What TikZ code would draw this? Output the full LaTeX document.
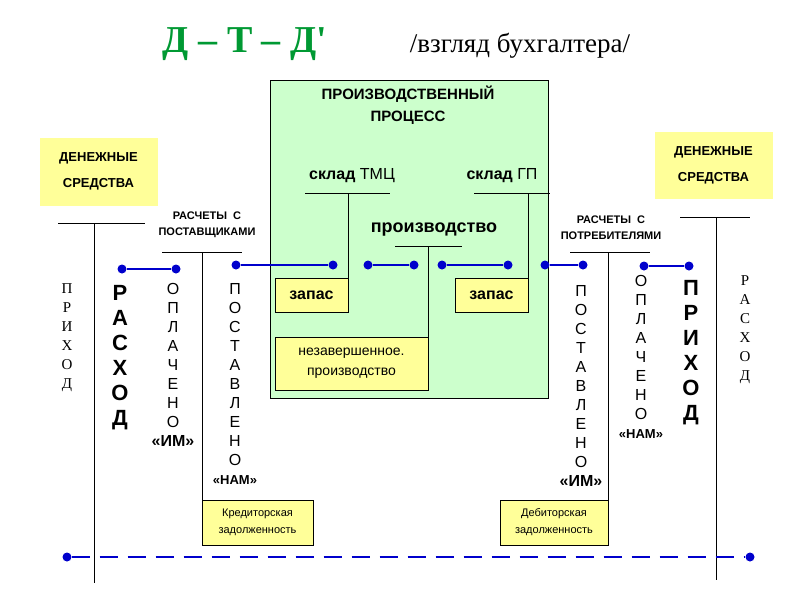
\documentclass[tikz,border=0pt]{standalone}
\usepackage{fontspec}
\setmainfont{Liberation Sans}
\newfontfamily\serif{Liberation Serif}
\definecolor{lgreen}{HTML}{CCFFCC}
\definecolor{lyellow}{HTML}{FFFF99}
\definecolor{tgreen}{HTML}{009933}
\definecolor{dblue}{HTML}{0000CC}
\tikzset{
 ybox/.style={draw, fill=lyellow, line width=0.6pt},
 tline/.style={line width=0.7pt},
 flow/.style={dblue, line width=2.2pt},
 dot/.style={circle, fill=dblue, inner sep=0pt, minimum size=9pt},
 vtxt/.style={align=center, inner sep=0pt, anchor=north, font={\fontsize{16}{19}\selectfont}},
 sm/.style={align=center, font={\bfseries\fontsize{11}{16}\selectfont}},
}
\begin{document}
\begin{tikzpicture}[x=1pt,y=-1pt]
\useasboundingbox (0,0) rectangle (800,600);
\fill[white] (0,0) rectangle (800,600);
\node[text=tgreen, font={\bfseries\serif\fontsize{38}{40}\selectfont}] (t1) at (245,44) {Д – Т – Д'};
\node[font={\serif\fontsize{27}{30}\selectfont}] (t2) at (520,46) {/взгляд бухгалтера/};
% green box
\draw[fill=lgreen, line width=0.6pt] (270,80) rectangle (548,398);
\node[align=center, font={\bfseries\fontsize{15}{22}\selectfont}] (pp) at (408,105) {ПРОИЗВОДСТВЕННЫЙ\\ПРОЦЕСС};
\node[font={\fontsize{16}{18}\selectfont}] (sk1) at (352,176) {\textbf{склад} ТМЦ};
\node[font={\fontsize{16}{18}\selectfont}] (sk2) at (502,176) {\textbf{склад} ГП};
\node[font={\bfseries\fontsize{18}{20}\selectfont}] (pr) at (434,230) {производство};
\node[ybox, minimum width=73pt, minimum height=34pt, font={\bfseries\fontsize{16}{18}\selectfont}] (z1) at (311.5,295) {запас};
\node[ybox, minimum width=73pt, minimum height=34pt, font={\bfseries\fontsize{16}{18}\selectfont}] (z2) at (491.5,295) {запас};
\node[ybox, minimum width=153pt, minimum height=53pt, align=center, font={\fontsize{14}{20}\selectfont}] (nz) at (351.5,363.5) {незавершенное.\\производство};
\draw[tline] (305,193) -- (390,193) (348,193) -- (348,305);
\draw[tline] (474,193) -- (550,193) (528,193) -- (528,312);
\draw[tline] (395,246) -- (462,246) (428,246) -- (428,337);
% money boxes
\node[draw=lyellow, fill=lyellow, minimum width=117pt, minimum height=67pt, align=center, font={\bfseries\fontsize{13}{26}\selectfont}] (d1) at (98.5,171.5) {ДЕНЕЖНЫЕ\\СРЕДСТВА};
\node[draw=lyellow, fill=lyellow, minimum width=117pt, minimum height=66pt, align=center, font={\bfseries\fontsize{13}{26}\selectfont}] (d2) at (713.5,165) {ДЕНЕЖНЫЕ\\СРЕДСТВА};
% T accounts
\draw[tline] (58,223) -- (145,223) (94,223) -- (94,583);
\draw[tline] (680,217) -- (750,217) (716,217) -- (716,580);
\node[sm] (rs1) at (207,225) {РАСЧЕТЫ\ \ С\\ПОСТАВЩИКАМИ};
\node[sm] (rs2) at (611,228) {РАСЧЕТЫ\ \ С\\ПОТРЕБИТЕЛЯМИ};
\draw[tline] (162,252) -- (242,252) (202,252) -- (202,500);
\draw[tline] (570,252) -- (650,252) (608,252) -- (608,500);
\node[ybox, minimum width=111pt, minimum height=45pt, align=center, font={\fontsize{11}{17}\selectfont}] (kr) at (257.5,522.5) {Кредиторская\\задолженность};
\node[ybox, minimum width=108pt, minimum height=45pt, align=center, font={\fontsize{11}{17}\selectfont}] (db) at (554,522.5) {Дебиторская\\задолженность};
% flows
\foreach \a/\b/\y [count=\i] in {122/176/269, 236/333/265, 368/414/265, 442/508/265, 545/583/265, 644/689/266}{
  \node[dot] (fa\i) at (\a,\y) {};
  \node[dot] (fb\i) at (\b,\y) {};
  \draw[flow] (fa\i) -- (fb\i);
}
\node[dot] (la) at (67,557) {};
\node[dot] (lb) at (750,557) {};
\draw[flow, dash pattern=on 18pt off 10pt] (la) -- (lb);
% vertical texts
\node[vtxt, font={\serif\fontsize{15}{19}\selectfont}] (v1) at (67,283) {П\\Р\\И\\Х\\О\\Д};
\node[vtxt, font={\bfseries\fontsize{22}{25}\selectfont}] (v2) at (120,285) {Р\\А\\С\\Х\\О\\Д};
\node[vtxt] (v3) at (173,283) {О\\П\\Л\\А\\Ч\\Е\\Н\\О\\\textbf{«ИМ»}};
\node[vtxt] (v4) at (235,283) {П\\О\\С\\Т\\А\\В\\Л\\Е\\Н\\О\\\fontsize{13}{15}\selectfont\textbf{«НАМ»}};
\node[vtxt] (v5) at (581,285) {П\\О\\С\\Т\\А\\В\\Л\\Е\\Н\\О\\\textbf{«ИМ»}};
\node[vtxt] (v6) at (641,275) {О\\П\\Л\\А\\Ч\\Е\\Н\\О\\\fontsize{13}{15}\selectfont\textbf{«НАМ»}};
\node[vtxt, font={\bfseries\fontsize{22}{25}\selectfont}] (v7) at (691,280) {П\\Р\\И\\Х\\О\\Д};
\node[vtxt, font={\serif\fontsize{15}{19}\selectfont}] (v8) at (745,275) {Р\\А\\С\\Х\\О\\Д};
\end{tikzpicture}
\end{document}
